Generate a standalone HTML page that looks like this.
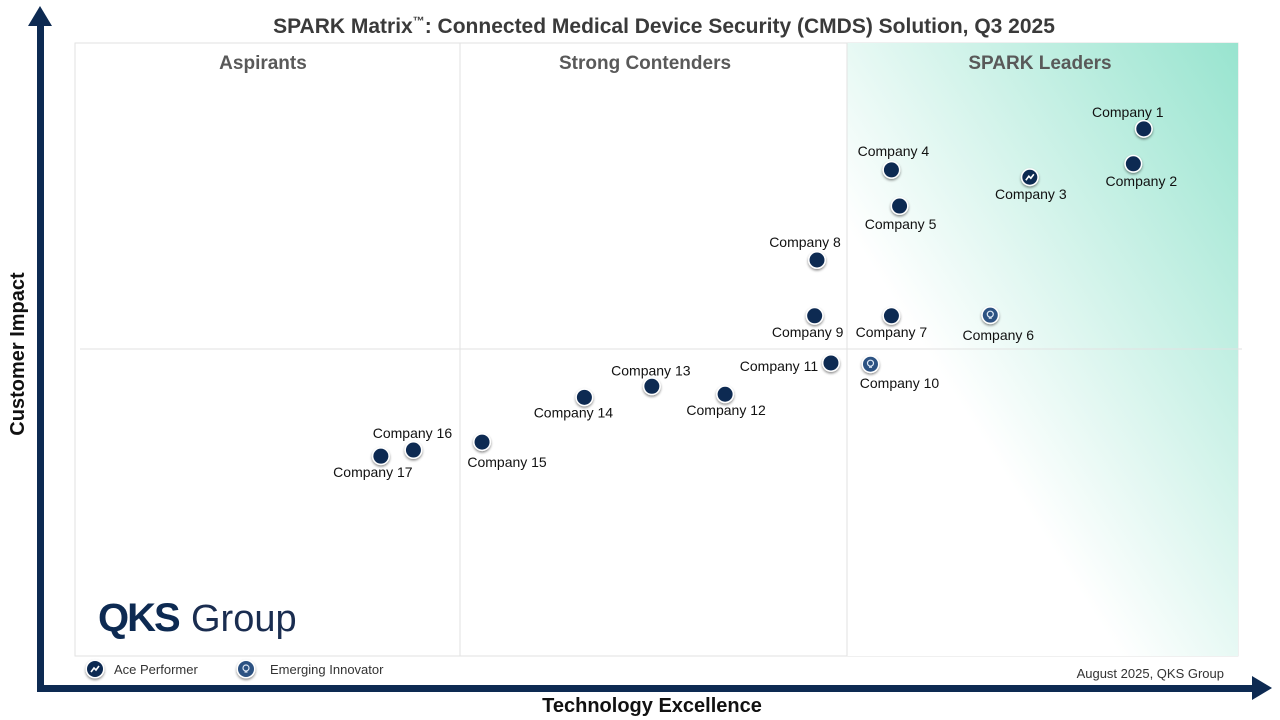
<!DOCTYPE html>
<html><head><meta charset="utf-8"><style>
body{margin:0;width:1280px;height:720px;background:#fff;overflow:hidden;font-family:"Liberation Sans",Arial,sans-serif}
svg{display:block}
</style></head><body>
<svg id="chart" width="1280" height="720">
<defs>
<linearGradient id="lg" x1="0" y1="1" x2="1" y2="0">
<stop offset="0.35" stop-color="#ffffff"/><stop offset="1" stop-color="#98e4cf"/>
</linearGradient>
<filter id="sh" x="-50%" y="-50%" width="200%" height="200%"><feDropShadow dx="0" dy="1.5" stdDeviation="1.2" flood-color="#000" flood-opacity="0.45"/></filter>
</defs>
<text x="664" y="33" text-anchor="middle" font-size="21" font-weight="bold" fill="#3a3a3a">SPARK Matrix<tspan font-size="12" dy="-8">™</tspan><tspan dy="8">: Connected Medical Device Security (CMDS) Solution, Q3 2025</tspan></text>
<rect x="75" y="43" width="1163" height="613" fill="#fff" stroke="#e2e2e2"/>
<rect x="847" y="43" width="391" height="613" fill="url(#lg)"/>
<line x1="460" y1="43" x2="460" y2="656" stroke="#e2e2e2"/>
<line x1="847" y1="43" x2="847" y2="656" stroke="#e2e2e2"/>
<line x1="80" y1="349" x2="1242" y2="349" stroke="#e2e2e2"/>
<g font-size="19" font-weight="bold" fill="#595959" text-anchor="middle">
<text x="263" y="69">Aspirants</text>
<text x="645" y="69">Strong Contenders</text>
<text x="1040" y="69">SPARK Leaders</text>
</g>
<g fill="#0d2a52">
<text x="98" y="631" font-size="40" font-weight="bold" letter-spacing="-2">QKS</text>
<text x="191" y="631" font-size="38" fill="#1a2d50">Group</text>
</g>
<rect x="37" y="20" width="7" height="672" fill="#0d2a52"/>
<polygon points="40,6 28,26 52,26" fill="#0d2a52"/>
<rect x="37" y="685" width="1222" height="7" fill="#0d2a52"/>
<polygon points="1272,688 1252,676 1252,700" fill="#0d2a52"/>
<text x="652" y="712" text-anchor="middle" font-size="20" font-weight="bold" fill="#111">Technology Excellence</text>
<text transform="translate(24,354) rotate(-90)" text-anchor="middle" font-size="20" font-weight="bold" fill="#111">Customer Impact</text>
<text x="1224" y="678" text-anchor="end" font-size="13" fill="#333">August 2025, QKS Group</text>
<g id="legend"></g>
<g id="points"></g>
</svg>
<script>
const companies=["Company 1","Company 2","Company 3","Company 4","Company 5","Company 6","Company 7","Company 8","Company 9","Company 10","Company 11","Company 12","Company 13","Company 14","Company 15","Company 16","Company 17"];
const techScores=[91.9,91.0,82.1,70.2,70.9,78.7,70.2,63.8,63.6,68.4,65.0,55.9,49.6,43.8,35.0,29.1,26.3];
const impactScores=[86.0,80.3,78.1,79.3,73.4,55.6,55.5,64.6,55.5,47.6,47.8,42.7,44.0,42.2,34.9,33.6,32.6];
const types=["n","n","ace","n","n","inn","n","n","n","inn","n","n","n","n","n","n","n"];
const labelDx=[-16,8,1,2,1,8,0,-12,-7,29,-52,1,-1,-11,25,-1,-8];
const labelDy=[-12,22,22,-14,23,25,21,-13,21,24,8,21,-11,20,25,-12,21];
const sx=v=>75+v/100*1163, sy=v=>656-v/100*613;
const NS="http://www.w3.org/2000/svg";
function mk(t,a,p){const e=document.createElementNS(NS,t);for(const k in a)e.setAttribute(k,a[k]);p.appendChild(e);return e;}
function icon(g,x,y,type,r){
 mk('circle',{cx:x,cy:y,r:r+1.5,fill:'#fff',filter:'url(#sh)'},g);
 mk('circle',{cx:x,cy:y,r:r,fill:type==='inn'?'#2c5282':'#0d2a52'},g);
 if(type==='ace')mk('polyline',{points:`${x-4},${y+3} ${x-1},${y-1} ${x+1},${y+1} ${x+4},${y-3}`,fill:'none',stroke:'#fff','stroke-width':1.6},g);
 if(type==='inn'){mk('circle',{cx:x,cy:y-1,r:3,fill:'none',stroke:'#dfe9f5','stroke-width':1.2},g);mk('line',{x1:x-1.5,y1:y+3,x2:x+1.5,y2:y+3,stroke:'#dfe9f5','stroke-width':1.2},g);}
}
const pg=document.getElementById('points');
companies.forEach((c,i)=>{
 const g=mk('g',{},pg);
 
 
 const x=sx(techScores[i]),y=sy(impactScores[i]);
 icon(g,x,y,types[i],7.5);
 const t=mk('text',{x:x+labelDx[i],y:y+labelDy[i],'text-anchor':'middle','font-size':14,fill:'#111'},g);
 t.textContent=c;
});
const lg=document.getElementById('legend');
const l1=mk('g',{},lg);


icon(l1,95,669,'ace',8);
mk('text',{x:114,y:674,'font-size':13,fill:'#333'},l1).textContent='Ace Performer';
const l2=mk('g',{},lg);


icon(l2,246,669,'inn',8);
mk('text',{x:270,y:674,'font-size':13,fill:'#333'},l2).textContent='Emerging Innovator';
</script>
</body></html>
